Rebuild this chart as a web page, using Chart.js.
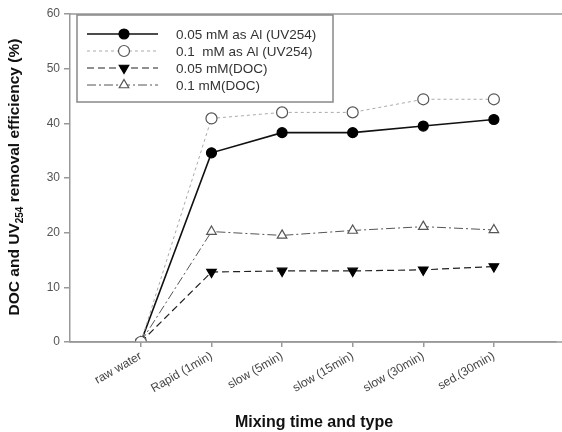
<!DOCTYPE html>
<html><head><meta charset="utf-8">
<script src="https://cdn.jsdelivr.net/npm/chart.js@4/dist/chart.umd.min.js"></script>
<style>html,body{margin:0;padding:0;background:#fff}#wrap{width:562px;height:432px}</style>
</head><body><div id="wrap"><canvas id="c" width="562" height="432"></canvas></div>
<script>
const categories = ["raw water","Rapid (1min)","slow (5min)","slow (15min)","slow (30min)","sed.(30min)"];
const seriesNames = ["0.05 mM as Al (UV254)","0.1  mM as Al (UV254)","0.05 mM(DOC)","0.1 mM(DOC)"];
const uv005 = [0, 34.6, 38.3, 38.3, 39.5, 40.7];
const uv01  = [0, 40.9, 42.0, 42.0, 44.4, 44.4];
const doc005 = [0, 12.8, 13.0, 13.0, 13.2, 13.8];
const doc01  = [0, 20.2, 19.5, 20.4, 21.1, 20.5];
const yTicks = [0,10,20,30,40,50,60];

const toPts = arr => arr.map((v,i)=>({x:i,y:v}));
const FONT = '"Liberation Sans", Arial, sans-serif';

const styles = [
  {borderColor:'#111', borderWidth:1.6, borderDash:[], pointStyle:'circle', pointRadius:5, pointBackgroundColor:'#000', pointBorderColor:'#000', pointRotation:0, order:1},
  {borderColor:'#aaa', borderWidth:1, borderDash:[3,3], pointStyle:'circle', pointRadius:5.5, pointBackgroundColor:'#fff', pointBorderColor:'#555', pointRotation:0, order:0},
  {borderColor:'#222', borderWidth:1.2, borderDash:[7,4], pointStyle:'triangle', pointRadius:5.5, pointBackgroundColor:'#000', pointBorderColor:'#000', pointRotation:180, order:2},
  {borderColor:'#555', borderWidth:1, borderDash:[9,3,2,3], pointStyle:'triangle', pointRadius:5.5, pointBackgroundColor:'#fff', pointBorderColor:'#555', pointRotation:0, order:3}
];
const dataArr = [uv005, uv01, doc005, doc01];
const datasets = dataArr.map((d,i)=>Object.assign({label:seriesNames[i], data:toPts(d), fill:false, tension:0, pointBorderWidth:1.2}, styles[i]));

const decor = {
  id:'decor',
  afterDraw(chart){
    const ctx = chart.ctx, a = chart.chartArea;
    ctx.save();
    ctx.strokeStyle = '#999'; ctx.lineWidth = 1.5;
    ctx.beginPath(); ctx.moveTo(a.left, a.top); ctx.lineTo(562, a.top); ctx.stroke();
    ctx.beginPath(); ctx.moveTo(a.left, a.bottom); ctx.lineTo(562, a.bottom); ctx.stroke();
    const bx=77, by=15, bw=256, bh=87;
    ctx.fillStyle='#fff'; ctx.fillRect(bx,by,bw,bh);
    ctx.strokeStyle='#888'; ctx.lineWidth=1.5; ctx.strokeRect(bx,by,bw,bh);
    const rows=[34,51,68,85];
    chart.data.datasets.forEach((ds,i)=>{
      const y=rows[i];
      ctx.save();
      ctx.strokeStyle=ds.borderColor; ctx.lineWidth=ds.borderWidth; ctx.setLineDash(ds.borderDash);
      ctx.beginPath(); ctx.moveTo(87,y); ctx.lineTo(158,y); ctx.stroke();
      ctx.setLineDash([]);
      ctx.fillStyle=ds.pointBackgroundColor; ctx.strokeStyle=ds.pointBorderColor; ctx.lineWidth=1.2;
      Chart.helpers.drawPoint(ctx,{pointStyle:ds.pointStyle,radius:ds.pointRadius,rotation:ds.pointRotation,borderWidth:1.2},124,y);
      ctx.restore();
      ctx.fillStyle='#333'; ctx.font='13.5px '+FONT;
      ctx.textBaseline='middle'; ctx.textAlign='left';
      ctx.fillText(ds.label,176,y+1);
    });
    ctx.fillStyle='#111'; ctx.font='bold 16px '+FONT;
    ctx.textAlign='center'; ctx.textBaseline='middle';
    ctx.fillText('Mixing time and type', 314, 423);
    ctx.save();
    ctx.translate(15, 177); ctx.rotate(-Math.PI/2);
    const p1='DOC and UV', sub='254', p2=' removal efficiency (%)';
    const fMain='bold 15.5px '+FONT, fSub='bold 10px '+FONT;
    ctx.font=fMain; const w1=ctx.measureText(p1).width, w3=ctx.measureText(p2).width;
    ctx.font=fSub; const w2=ctx.measureText(sub).width;
    let x=-(w1+w2+w3)/2;
    ctx.textAlign='left'; ctx.textBaseline='middle';
    ctx.font=fMain; ctx.fillText(p1,x,0); x+=w1;
    ctx.font=fSub; ctx.fillText(sub,x,5); x+=w2;
    ctx.font=fMain; ctx.fillText(p2,x,0);
    ctx.restore();
    ctx.restore();
  }
};

new Chart(document.getElementById('c'), {
  type:'line',
  data:{datasets},
  options:{
    responsive:false, animation:false, devicePixelRatio:1,
    layout:{padding:{top:14,right:1,left:0,bottom:0}},
    plugins:{legend:{display:false}, tooltip:{enabled:false}},
    scales:{
      x:{type:'linear', min:-1.004, max:5.87,
        afterBuildTicks(s){ s.ticks = categories.map((c,i)=>({value:i})); },
        afterFit(s){ s.height = 90; s.paddingLeft = 0; s.paddingRight = 0; },
        ticks:{autoSkip:false, maxRotation:30, minRotation:30, padding:2,
          font:{size:12, family:FONT}, color:'#444',
          callback:(v)=>categories[v]},
        grid:{drawOnChartArea:false, drawTicks:true, tickLength:5, color:'#999', lineWidth:1.5},
        border:{display:true, color:'#999', width:1.5}
      },
      y:{type:'linear', min:0, max:60,
        afterBuildTicks(s){ s.ticks = yTicks.map(v=>({value:v})); },
        afterFit(s){ s.width = 70; s.paddingTop = 0; s.paddingBottom = 0; },
        ticks:{padding:4, font:{size:12, family:FONT}, color:'#555'},
        grid:{drawOnChartArea:false, drawTicks:true, tickLength:6, color:'#999', lineWidth:1.5},
        border:{display:true, color:'#999', width:1.5}
      }
    }
  },
  plugins:[decor]
});
</script></body></html>
